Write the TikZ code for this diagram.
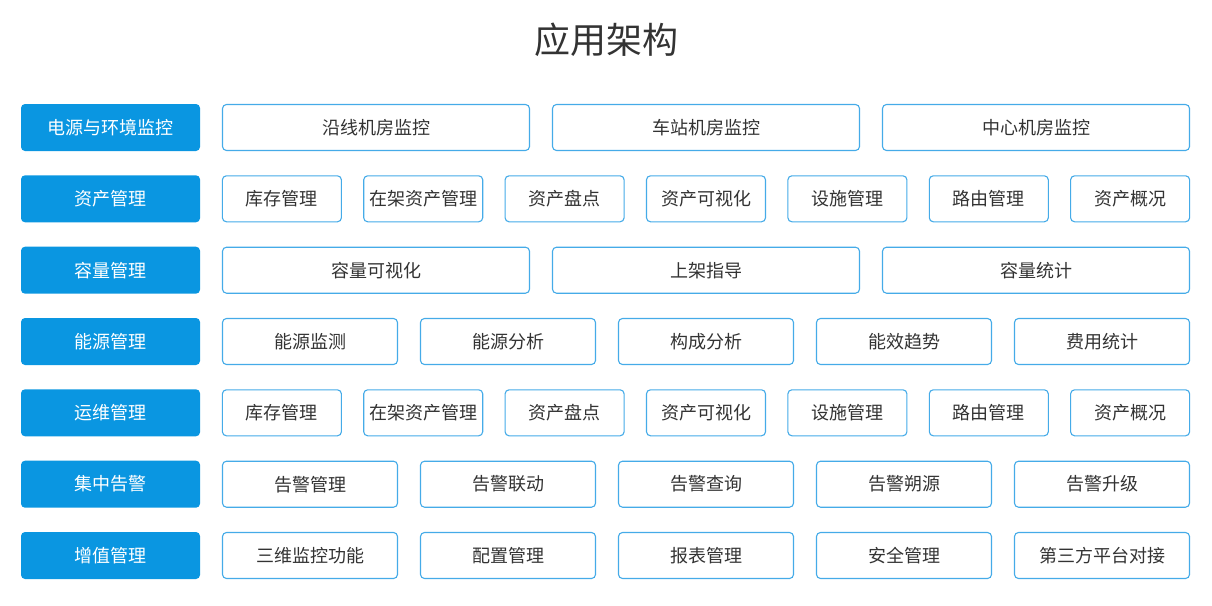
\documentclass[tikz,border=0pt]{standalone}
\usepackage{fontspec}
\usepackage{xcolor}
\usepackage{tikz}
\usetikzlibrary{positioning}
\newfontfamily\cjk{Noto Sans CJK SC}
\definecolor{catblue}{HTML}{0A96E1}
\definecolor{lineblue}{HTML}{45ABE8}
\definecolor{textgray}{HTML}{333333}

\begin{document}
\begin{tikzpicture}[x=1pt, y=-1pt,
    every node/.style={font=\cjk\fontsize{18}{20}\selectfont, text=textgray, inner sep=0pt},
    cat/.style={fill=catblue, rounded corners=4pt, minimum width=179pt, minimum height=47pt, text=white},
    item/.style={draw=lineblue, line width=1.1pt, fill=white, rounded corners=4pt, minimum height=46pt},
    wide/.style={item, minimum width=307pt},
    mid/.style={item, minimum width=175pt},
    small/.style={item, minimum width=119pt}]
        \useasboundingbox (0,0) rectangle (1212,605);
        \node[font=\cjk\fontsize{36}{40}\selectfont] (title) at (606,40) {应用架构};
        % row 1
        \node[cat]  (c1) at (110.5,127.5) {电源与环境监控};
        \node[wide] (r1a) at (376,127.5)  {沿线机房监控};
        \node[wide] (r1b) at (706,127.5)  {车站机房监控};
        \node[wide] (r1c) at (1036,127.5) {中心机房监控};
        % row 2
        \node[cat]   (c2) at (110.5,198.8) {资产管理};
        \node[small] (r2a) at (281.9,198.8)  {库存管理};
        \node[small] (r2b) at (423.2,198.8)  {在架资产管理};
        \node[small] (r2c) at (564.6,198.8)  {资产盘点};
        \node[small] (r2d) at (706,198.8)    {资产可视化};
        \node[small] (r2e) at (847.4,198.8)  {设施管理};
        \node[small] (r2f) at (988.8,198.8)  {路由管理};
        \node[small] (r2g) at (1130.1,198.8) {资产概况};
        % row 3
        \node[cat]  (c3) at (110.5,270.2) {容量管理};
        \node[wide] (r3a) at (376,270.2)  {容量可视化};
        \node[wide] (r3b) at (706,270.2)  {上架指导};
        \node[wide] (r3c) at (1036,270.2) {容量统计};
        % row 4
        \node[cat] (c4) at (110.5,341.5) {能源管理};
        \node[mid] (r4a) at (310,341.5)  {能源监测};
        \node[mid] (r4b) at (508,341.5)  {能源分析};
        \node[mid] (r4c) at (706,341.5)  {构成分析};
        \node[mid] (r4d) at (904,341.5)  {能效趋势};
        \node[mid] (r4e) at (1102,341.5) {费用统计};
        % row 5
        \node[cat]   (c5) at (110.5,412.8) {运维管理};
        \node[small] (r5a) at (281.9,412.8)  {库存管理};
        \node[small] (r5b) at (423.2,412.8)  {在架资产管理};
        \node[small] (r5c) at (564.6,412.8)  {资产盘点};
        \node[small] (r5d) at (706,412.8)    {资产可视化};
        \node[small] (r5e) at (847.4,412.8)  {设施管理};
        \node[small] (r5f) at (988.8,412.8)  {路由管理};
        \node[small] (r5g) at (1130.1,412.8) {资产概况};
        % row 6
        \node[cat] (c6) at (110.5,484.2) {集中告警};
        \node[mid] (r6a) at (310,484.2)  {告警管理};
        \node[mid] (r6b) at (508,484.2)  {告警联动};
        \node[mid] (r6c) at (706,484.2)  {告警查询};
        \node[mid] (r6d) at (904,484.2)  {告警朔源};
        \node[mid] (r6e) at (1102,484.2) {告警升级};
        % row 7
        \node[cat] (c7) at (110.5,555.5) {增值管理};
        \node[mid] (r7a) at (310,555.5)  {三维监控功能};
        \node[mid] (r7b) at (508,555.5)  {配置管理};
        \node[mid] (r7c) at (706,555.5)  {报表管理};
        \node[mid] (r7d) at (904,555.5)  {安全管理};
        \node[mid] (r7e) at (1102,555.5) {第三方平台对接};
      \end{tikzpicture}
\end{document}
